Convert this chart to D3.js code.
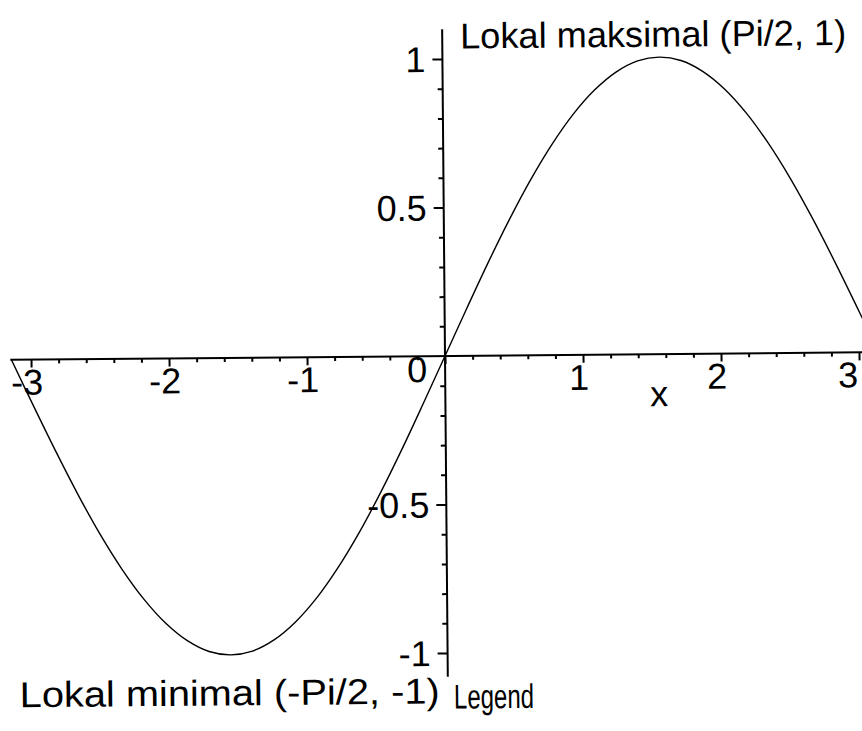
<!DOCTYPE html>
<html>
<head>
<meta charset="utf-8">
<script src="https://cdn.jsdelivr.net/npm/d3@7"></script>
<style>
  html, body { margin: 0; padding: 0; background: #fff; }
  svg { display: block; }
  text { font-family: "Liberation Sans", Arial, sans-serif; fill: #000; }
</style>
</head>
<body>
<svg id="chart" width="862" height="731"></svg>
<script>
// Sampled curve of sin(x) on [-Pi, Pi]
const xValues = [-3.142, -2.985, -2.827, -2.670, -2.513, -2.356, -2.199, -2.042, -1.885, -1.728,
                 -1.571, -1.414, -1.257, -1.100, -0.942, -0.785, -0.628, -0.471, -0.314, -0.157,
                  0.000,  0.157,  0.314,  0.471,  0.628,  0.785,  0.942,  1.100,  1.257,  1.414,
                  1.571,  1.728,  1.885,  2.042,  2.199,  2.356,  2.513,  2.670,  2.827,  2.985, 3.142];
const yValues = [ 0.000, -0.156, -0.309, -0.454, -0.588, -0.707, -0.809, -0.891, -0.951, -0.988,
                 -1.000, -0.988, -0.951, -0.891, -0.809, -0.707, -0.588, -0.454, -0.309, -0.156,
                  0.000,  0.156,  0.309,  0.454,  0.588,  0.707,  0.809,  0.891,  0.951,  0.988,
                  1.000,  0.988,  0.951,  0.891,  0.809,  0.707,  0.588,  0.454,  0.309,  0.156, 0.000];

const xMajorTicks = [-3, -2, -1, 0, 1, 2, 3];
const xTickLabels = ["-3", "-2", "-1", "1", "2", "3"];
const xLabelValues = [-3, -2, -1, 1, 2, 3];
const yMajorTicks = [-1, -0.5, 0.5, 1];
const yTickLabels = ["-1", "-0.5", "0.5", "1"];
const xAxisRange = [-3.15, 3.2];
const yAxisRange = [-1.08, 1.1];

const annotations = [
  { text: "Lokal maksimal (Pi/2, 1)", x: 0.13, y: 1.035, anchor: "start", width: 386 },
  { text: "Lokal minimal (-Pi/2, -1)", x: -0.06, y: -1.17, anchor: "end", width: 420 }
];

const svg = d3.select("#chart");
const originX = 445, originY = 356;
const x = d3.scaleLinear().domain([0, 1]).range([originX, originX + 138]);
const y = d3.scaleLinear().domain([0, 1]).range([originY, originY - 297]);

// the whole drawing is tilted very slightly
const g = svg.append("g").attr("transform", `rotate(-0.5, ${originX}, ${originY})`);

// x axis: major and minor ticks hang below the line
const xMinor = d3.range(-31, 32).map(d => +(d * 0.1).toFixed(1)).filter(d => Math.abs(Math.round(d * 10) % 2) === 0 && !Number.isInteger(d));
const xAxisG = g.append("g").attr("transform", `translate(0,${originY})`);
xAxisG.append("g").call(d3.axisBottom(x).tickValues(xMajorTicks).tickSize(8).tickFormat("").tickSizeOuter(0));
xAxisG.append("g").call(d3.axisBottom(x).tickValues(xMinor).tickSize(4).tickFormat("").tickSizeOuter(0));
xAxisG.selectAll(".domain").remove();
xAxisG.append("line")
  .attr("x1", x(xAxisRange[0])).attr("x2", x(xAxisRange[1]))
  .attr("stroke", "#000").attr("stroke-width", 2);

// y axis: ticks point to the left
const yMinor = d3.range(-10, 11).map(d => +(d * 0.1).toFixed(1)).filter(d => Math.round(d * 10) % 5 !== 0);
const yAxisG = g.append("g").attr("transform", `translate(${originX},0)`);
yAxisG.append("g").call(d3.axisLeft(y).tickValues(yMajorTicks).tickSize(10).tickFormat("").tickSizeOuter(0));
yAxisG.append("g").call(d3.axisLeft(y).tickValues(yMinor).tickSize(5).tickFormat("").tickSizeOuter(0));
yAxisG.selectAll(".domain").remove();
yAxisG.append("line")
  .attr("y1", y(yAxisRange[0])).attr("y2", y(yAxisRange[1]))
  .attr("stroke", "#000").attr("stroke-width", 2);
g.selectAll(".tick line").attr("stroke", "#000").attr("stroke-width", 2);

// tick labels
g.selectAll(".xlab").data(xLabelValues).join("text")
  .attr("x", d => Math.min(x(d) - 4, 848)).attr("y", originY + 35)
  .attr("text-anchor", "middle").attr("font-size", 36)
  .text((d, i) => xTickLabels[i]);
g.append("text").attr("x", originX - 18).attr("y", originY + 26)
  .attr("text-anchor", "end").attr("font-size", 36).text("0");
g.selectAll(".ylab").data(yMajorTicks).join("text")
  .attr("x", originX - 17).attr("y", d => y(d) + 13)
  .attr("text-anchor", "end").attr("font-size", 36)
  .text((d, i) => yTickLabels[i]);

// axis title and legend caption
g.append("text").attr("x", x(1.55)).attr("y", originY + 52)
  .attr("text-anchor", "middle").attr("font-size", 36).text("x");
g.append("text").attr("x", originX + 6).attr("y", y(-1.13) + 17)
  .attr("text-anchor", "start").attr("font-size", 34)
  .attr("textLength", 80).attr("lengthAdjust", "spacingAndGlyphs").text("Legend");

// the curve
const line = d3.line().x((d, i) => x(xValues[i])).y(d => y(d)).curve(d3.curveCatmullRom);
g.append("path").datum(yValues)
  .attr("d", line).attr("fill", "none").attr("stroke", "#000").attr("stroke-width", 1.4);

// extremum annotations
g.selectAll(".ann").data(annotations).join("text")
  .attr("x", d => x(d.x)).attr("y", d => y(d.y))
  .attr("text-anchor", d => d.anchor).attr("font-size", 36)
  .attr("textLength", d => d.width).attr("lengthAdjust", "spacingAndGlyphs")
  .text(d => d.text);
</script>
</body>
</html>
